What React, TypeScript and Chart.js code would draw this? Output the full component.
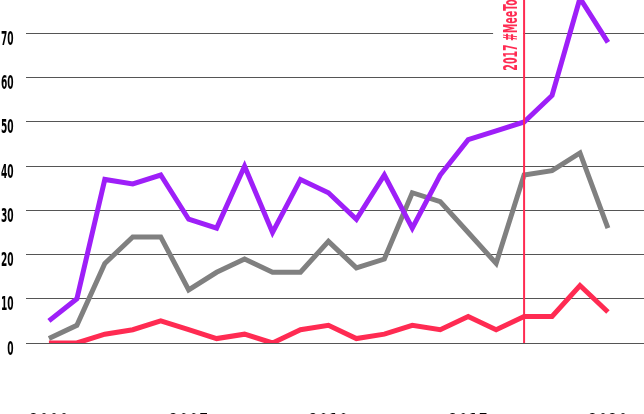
import React, { useEffect, useRef } from "react";
import { Chart, registerables } from "chart.js";

Chart.register(...registerables);

// ---- data ----
const years = [2000, 2001, 2002, 2003, 2004, 2005, 2006, 2007, 2008, 2009, 2010, 2011, 2012, 2013, 2014, 2015, 2016, 2017, 2018, 2019, 2020];
const purpleValues = [5, 10, 37, 36, 38, 28, 26, 40, 25, 37, 34, 28, 38, 26, 38, 46, 48, 50, 56, 78, 68];
const redValues = [0, 0, 2, 3, 5, 3, 1, 2, 0, 3, 4, 1, 2, 4, 3, 6, 3, 6, 6, 13, 7];
const greyValues = [1, 4, 18, 24, 24, 12, 16, 19, 16, 16, 23, 17, 19, 34, 32, 25, 18, 38, 39, 43, 26];
const yTickStep = 10;
const xTickStep = 5;
const markerYear = 2017;
const markerLabel = "2017 #MeeToo";

// ---- styles ----
const PURPLE = "#9e1ff8";
const RED = "#ff2b52";
const GREY = "#808080";
const FONT = '"DejaVu Sans Condensed", "Liberation Sans Narrow", sans-serif';

const toPoints = (vals: number[]) => vals.map((v, i) => ({ x: years[i], y: v }));

const zeroPad = (s: any) => {
  s.paddingTop = 0;
  s.paddingBottom = 0;
  s.paddingLeft = 0;
  s.paddingRight = 0;
};

// condensed tick labels, drawn from the scales' own ticks
const tickLabelPlugin = {
  id: "condensedTicks",
  afterDraw(chart: any) {
    const { ctx, scales, chartArea } = chart;
    const xs = scales.x;
    const ys = scales.y;
    ctx.save();
    ctx.fillStyle = "#000";
    ctx.textBaseline = "alphabetic";

    // y labels
    ctx.font = "bold 19px " + FONT;
    const ky = 12.6 / ctx.measureText("00").width;
    ctx.textAlign = "right";
    ys.ticks.forEach((t: any) => {
      const py = ys.getPixelForValue(t.value);
      ctx.save();
      ctx.translate(chartArea.left - 12.5, py + 11.5);
      ctx.scale(ky, 1);
      ctx.fillText(String(t.value), 0, 0);
      ctx.restore();
    });

    // x labels
    ctx.font = "bold 28px " + FONT;
    const kx = 40 / ctx.measureText("2000").width;
    ctx.textAlign = "center";
    xs.ticks.forEach((t: any) => {
      const px = xs.getPixelForValue(t.value);
      ctx.save();
      ctx.translate(px, chartArea.bottom + 68 + 23);
      ctx.scale(kx, 1);
      ctx.fillText(String(t.value), 0, 0);
      ctx.restore();
    });
    ctx.restore();
  },
};

const markerPlugin = {
  id: "markerLine",
  afterDatasetsDraw(chart: any) {
    const { ctx, scales, chartArea } = chart;
    const px = scales.x.getPixelForValue(markerYear);
    const y0 = scales.y.getPixelForValue(0);
    ctx.save();
    // white backing behind the label
    ctx.fillStyle = "#ffffff";
    ctx.fillRect(px - 31, chartArea.top - 20, 30, 92);
    // vertical line
    ctx.strokeStyle = RED;
    ctx.lineWidth = 2;
    ctx.beginPath();
    ctx.moveTo(px, y0);
    ctx.lineTo(px, chartArea.top - 20);
    ctx.stroke();
    // rotated label
    ctx.font = "bold 20px " + FONT;
    const k = 78 / ctx.measureText(markerLabel).width;
    ctx.translate(px - 7, chartArea.top + 70.7);
    ctx.rotate(-Math.PI / 2);
    ctx.scale(k, 1);
    ctx.fillStyle = RED;
    ctx.textAlign = "left";
    ctx.textBaseline = "alphabetic";
    ctx.fillText(markerLabel, 0, 0);
    ctx.restore();
  },
};

function LineChart() {
  const ref = useRef<HTMLCanvasElement | null>(null);
  useEffect(() => {
    if (!ref.current) return;
    const chart = new Chart(ref.current, {
      type: "line",
      data: {
        datasets: [
          { label: "Purple", data: toPoints(purpleValues), borderColor: PURPLE, borderWidth: 5, pointRadius: 0, fill: false, tension: 0 },
          { label: "Red", data: toPoints(redValues), borderColor: RED, borderWidth: 5, pointRadius: 0, fill: false, tension: 0 },
          { label: "Grey", data: toPoints(greyValues), borderColor: GREY, borderWidth: 5, pointRadius: 0, fill: false, tension: 0 },
        ],
      },
      options: {
        animation: false,
        responsive: false,
        maintainAspectRatio: false,
        layout: { padding: 0 },
        plugins: { legend: { display: false }, tooltip: { enabled: false } },
        scales: {
          x: {
            type: "linear",
            min: 1999.18,
            max: 2021.29,
            grid: { display: false, drawTicks: false },
            border: { display: false },
            ticks: { stepSize: xTickStep, includeBounds: false, display: false },
            afterFit: (s: any) => { s.height = 87; zeroPad(s); },
          },
          y: {
            min: 0,
            max: 77.6,
            grid: { color: "#555", lineWidth: 1, drawTicks: false },
            border: { display: false },
            ticks: { stepSize: yTickStep, includeBounds: false, display: false },
            afterFit: (s: any) => { s.width = 26; zeroPad(s); },
          },
        },
      },
      plugins: [markerPlugin, tickLabelPlugin],
    } as any);
    return () => chart.destroy();
  }, []);
  return <canvas ref={ref} width={644} height={430} style={{ width: 644, height: 430, display: "block" }} />;
}

export default function App() {
  return (
    <div style={{ position: "fixed", left: 0, top: 0, width: 644, height: 414, overflow: "hidden", background: "#fff" }}>
      <LineChart />
    </div>
  );
}
